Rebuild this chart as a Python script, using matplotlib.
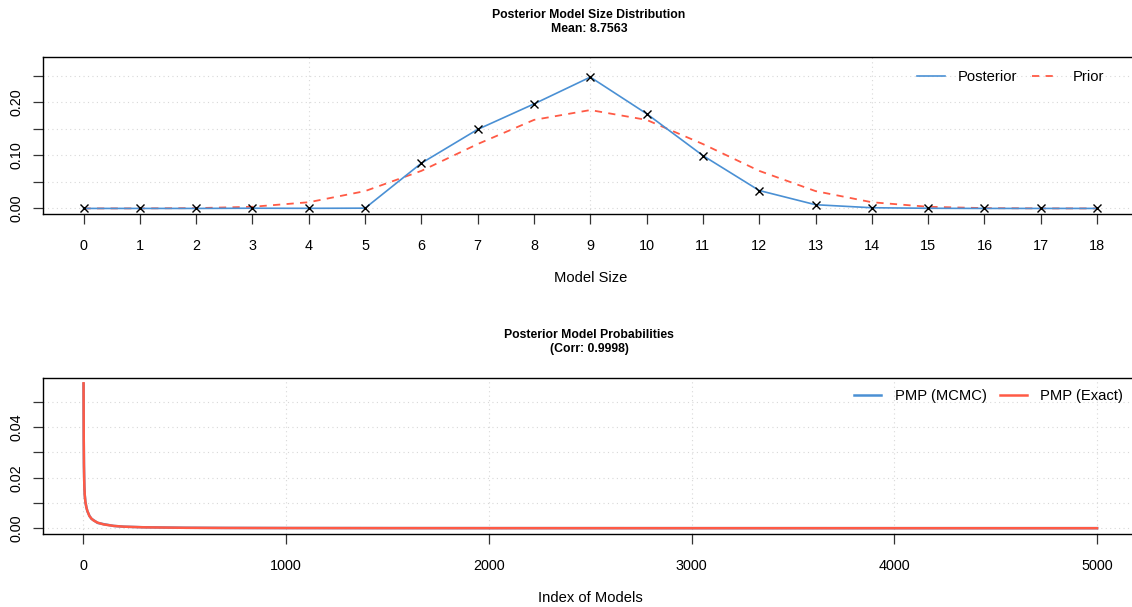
import matplotlib
matplotlib.use("Agg")
import matplotlib.pyplot as plt

plt.rcParams['font.family'] = ['Liberation Sans', 'DejaVu Sans']

# ---- data: top panel ----
model_size = list(range(0, 19))
posterior = [0.0, 0.0, 0.0, 0.0004, 0.0002, 0.0005, 0.0853, 0.149, 0.197, 0.2476,
             0.1786, 0.0996, 0.0338, 0.0070, 0.0013, 0.0003, 0.0, 0.0, 0.0]
prior = [0.0000038, 0.0000687, 0.000584, 0.00311, 0.01167, 0.03268, 0.07082, 0.12140,
         0.16692, 0.18547, 0.16692, 0.12140, 0.07082, 0.03268, 0.01167, 0.00311,
         0.000584, 0.0000687, 0.0000038]
top_title = "Posterior Model Size Distribution\nMean: 8.7563"

# ---- data: bottom panel ----
model_index = [1, 2, 3, 4, 5, 7, 10, 15, 20, 30, 40, 50, 70, 100, 150, 200, 300,
               500, 700, 1000, 1500, 2000, 3000, 4000, 5000]
pmp_exact = [0.0574, 0.035, 0.025, 0.020, 0.0165, 0.013, 0.0105, 0.0082, 0.0068,
             0.0048, 0.0038, 0.0031, 0.0022, 0.0015, 0.0009, 0.0006, 0.00035,
             0.00016, 0.0001, 0.00006, 0.00003, 0.00002, 0.00001, 0.000006, 0.000003]
pmp_mcmc = [0.0572, 0.0352, 0.0248, 0.0202, 0.0163, 0.0132, 0.0104, 0.0083, 0.0067,
            0.0049, 0.0037, 0.0032, 0.0021, 0.0016, 0.0009, 0.0006, 0.00036,
            0.00017, 0.0001, 0.00006, 0.00003, 0.00002, 0.00001, 0.000006, 0.000003]
bottom_title = "Posterior Model Probabilities\n(Corr: 0.9998)"

BLUE = "#4A90D4"
RED = "#FF5A45"
GRID = "#D8D8D8"

W, H = 1132, 607
fig = plt.figure(figsize=(W / 100, H / 100), dpi=100)

def frac_axes(left, top, right, bottom):
    return fig.add_axes([left / W, 1 - bottom / H, (right - left) / W, (bottom - top) / H])

def style(ax):
    for s in ax.spines.values():
        s.set_linewidth(1.0)
        s.set_color("black")
    ax.tick_params(axis='both', direction='out', length=7, width=0.9, color="#333333",
                   labelsize=10.4, labelcolor="black")
    ax.tick_params(axis='x', pad=11)
    ax.tick_params(axis='y', pad=7)
    for lab in ax.get_yticklabels():
        lab.set_rotation(90)
        lab.set_va('center')

# ---- top panel ----
ax1 = frac_axes(43, 57, 1137.6, 214)
ax1.set_xlim(-0.72, 18.72)
ax1.set_ylim(-0.0105, 0.2855)
for gy in [0, 0.05, 0.10, 0.15, 0.20, 0.25]:
    ax1.axhline(gy, color=GRID, lw=0.8, ls=(0, (1, 3)), zorder=0)
for gx in [4, 9, 14]:
    ax1.axvline(gx, color=GRID, lw=0.8, ls=(0, (1, 3)), zorder=0)
ax1.plot(model_size, posterior, color=BLUE, lw=1.2, label="Posterior", zorder=3)
ax1.plot(model_size, prior, color=RED, lw=1.3, ls=(0, (4, 3.5)), label="Prior", zorder=2)
ax1.plot(model_size, posterior, ls='none', marker='x', color='black', ms=5.5, mew=1.0, zorder=4)
ax1.set_xticks(model_size)
ax1.set_xticklabels([str(v) for v in model_size])
ax1.set_yticks([0, 0.05, 0.10, 0.15, 0.20, 0.25])
ax1.set_yticklabels(["0.00", "", "0.10", "", "0.20", ""])
ax1.set_xlabel("Model Size", fontsize=10.6, labelpad=13)
style(ax1)
ax1.legend(ncol=2, frameon=False, loc='center right', fontsize=10.6,
           bbox_to_anchor=(1110 / W, 1 - 77 / H), bbox_transform=fig.transFigure,
           handlelength=1.85, columnspacing=1.0, handletextpad=0.9, borderaxespad=0)
fig.text(589 / W, 1 - 22 / H, top_title, ha='center', va='center',
         fontsize=8.8, fontweight='bold', linespacing=1.2)

# ---- bottom panel ----
ax2 = frac_axes(43, 378, 1137.6, 534)
ax2.set_xlim(-199, 5200)
ax2.set_ylim(-0.0023, 0.0595)
for gy in [0, 0.01, 0.02, 0.03, 0.04, 0.05]:
    ax2.axhline(gy, color=GRID, lw=0.8, ls=(0, (1, 3)), zorder=0)
for gx in [0, 1000, 2000, 3000, 4000, 5000]:
    ax2.axvline(gx, color=GRID, lw=0.8, ls=(0, (1, 3)), zorder=0)
ax2.plot(model_index, pmp_mcmc, color=BLUE, lw=1.8, label="PMP (MCMC)", zorder=2)
ax2.plot(model_index, pmp_exact, color=RED, lw=1.8, label="PMP (Exact)", zorder=3)
ax2.set_xticks([0, 1000, 2000, 3000, 4000, 5000])
ax2.set_xticklabels(["0", "1000", "2000", "3000", "4000", "5000"])
ax2.set_yticks([0, 0.01, 0.02, 0.03, 0.04, 0.05])
ax2.set_yticklabels(["0.00", "", "0.02", "", "0.04", ""])
ax2.set_xlabel("Index of Models", fontsize=10.6, labelpad=13)
style(ax2)
ax2.legend(ncol=2, frameon=False, loc='center right', fontsize=10.6,
           bbox_to_anchor=(1129 / W, 1 - 396 / H), bbox_transform=fig.transFigure,
           handlelength=1.85, columnspacing=0.9, handletextpad=0.9, borderaxespad=0)
fig.text(589 / W, 1 - 342 / H, bottom_title, ha='center', va='center',
         fontsize=8.8, fontweight='bold', linespacing=1.2)

fig.savefig("out.png", dpi=100)
